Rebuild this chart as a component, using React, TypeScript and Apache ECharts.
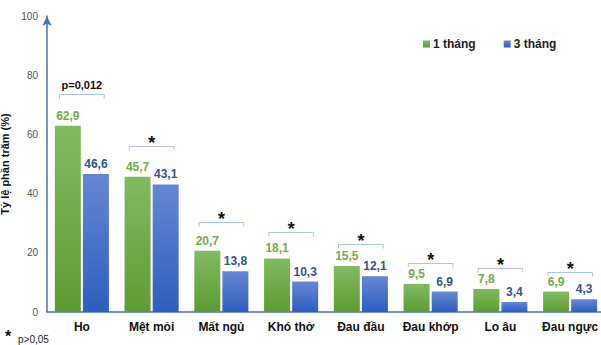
import React, { useEffect, useRef } from "react";
import * as echarts from "echarts";

const categories = ["Ho", "Mệt mỏi", "Mất ngủ", "Khó thở", "Đau đầu", "Đau khớp", "Lo âu", "Đau ngực"];
const oneMonth = [62.9, 45.7, 20.7, 18.1, 15.5, 9.5, 7.8, 6.9];
const threeMonths = [46.6, 43.1, 13.8, 10.3, 12.1, 6.9, 3.4, 4.3];
const bracketLevels = [73.5, 56, 30.5, 27, 23, 16.5, 15, 13.5];
const bracketTexts = ["p=0,012", "*", "*", "*", "*", "*", "*", "*"];
const yTicks = { min: 0, max: 100, interval: 20 };

const FONT = "'Liberation Sans', Arial, sans-serif";
const GREEN = "#70AD47";
const BLUE = "#4472C4";
const BLUE_DARK = "#2F5597";

const fmt = (v: number) => v.toFixed(1).replace(".", ",");

export default function App() {
  const ref = useRef<HTMLDivElement>(null);

  useEffect(() => {
    if (!ref.current) return;
    const chart = echarts.init(ref.current, null, { renderer: "svg" });

    const greenFill = new echarts.graphic.LinearGradient(0, 0, 0, 1, [
      { offset: 0, color: "#82BA62" },
      { offset: 1, color: "#5C9C2F" },
    ]);
    const blueFill = new echarts.graphic.LinearGradient(0, 0, 0, 1, [
      { offset: 0, color: "#6587D3" },
      { offset: 1, color: "#2E5EBE" },
    ]);

    chart.setOption({
      animation: false,
      textStyle: { fontFamily: FONT },
      grid: {
        left: 47,
        top: 16,
        width: 558,
        bottom: 33,
        containLabel: false,
        outerBoundsMode: "none",
      },
      legend: {
        left: 418,
        top: 33,
        icon: "rect",
        itemWidth: 7,
        itemHeight: 7,
        itemGap: 28,
        textStyle: { fontFamily: FONT, fontSize: 12, fontWeight: "bold", color: "#222", padding: [0, 0, 0, -2] },
        data: ["1 tháng", "3 tháng"],
      },
      xAxis: {
        type: "category",
        data: categories,
        axisLine: { lineStyle: { color: BLUE, width: 1.5 } },
        axisTick: { show: false },
        axisLabel: { interval: 0, fontFamily: FONT, fontSize: 12, fontWeight: "bold", color: "#111", margin: 9 },
      },
      yAxis: {
        type: "value",
        min: yTicks.min,
        max: yTicks.max,
        interval: yTicks.interval,
        name: "Tỷ lệ phần trăm (%)",
        nameLocation: "middle",
        nameGap: 34,
        nameTextStyle: { fontFamily: FONT, fontSize: 11, fontWeight: "bold", color: "#111" },
        axisLine: {
          show: true,
          symbol: ["none", "arrow"],
          symbolSize: [7, 10],
          lineStyle: { color: BLUE, width: 1.5 },
        },
        axisTick: { show: false },
        splitLine: { show: false },
        axisLabel: { fontFamily: FONT, fontSize: 10, color: "#555", margin: 9 },
      },
      series: [
        {
          name: "1 tháng",
          type: "bar",
          data: oneMonth,
          barWidth: 26,
          barGap: "8%",
          itemStyle: { color: greenFill },
          label: {
            show: true,
            position: "top",
            distance: 4,
            formatter: (p: any) => fmt(p.value),
            fontFamily: FONT,
            fontSize: 12,
            fontWeight: "bold",
            color: GREEN,
          },
        },
        {
          name: "3 tháng",
          type: "bar",
          data: threeMonths,
          barWidth: 26,
          itemStyle: { color: blueFill },
          label: {
            show: true,
            position: "top",
            distance: 4,
            formatter: (p: any) => fmt(p.value),
            fontFamily: FONT,
            fontSize: 12,
            fontWeight: "bold",
            color: BLUE_DARK,
          },
        },
        {
          name: "brackets",
          type: "custom",
          data: bracketLevels.map((lvl, i) => [i, lvl]),
          z: 5,
          renderItem: (params: any, api: any) => {
            const i = api.value(0);
            const pt = api.coord([i, api.value(1)]);
            const band = api.size([1, 0])[0];
            const hw = band * 0.32;
            const x = pt[0];
            const y = Math.round(pt[1]) + 0.5;
            const text = bracketTexts[i];
            const isStar = text === "*";
            return {
              type: "group",
              children: [
                {
                  type: "polyline",
                  shape: {
                    points: [
                      [x - hw, y + 4],
                      [x - hw, y],
                      [x + hw, y],
                      [x + hw, y + 4],
                    ],
                  },
                  style: { stroke: "#A5C6E8", lineWidth: 1, fill: "none" },
                },
                {
                  type: "text",
                  x,
                  y: isStar ? y - 4 : y - 10,
                  style: {
                    text,
                    fontFamily: FONT,
                    fontSize: isStar ? 18 : 11,
                    fontWeight: "bold",
                    fill: "#111",
                    align: "center",
                    verticalAlign: "middle",
                  },
                },
              ],
            };
          },
        },
      ],
      graphic: [
        {
          type: "text",
          left: 5,
          top: 328,
          style: { text: "*", fontFamily: FONT, fontSize: 16, fontWeight: "bold", fill: "#111" },
        },
        {
          type: "text",
          left: 18,
          top: 334,
          style: { text: "p>0,05", fontFamily: FONT, fontSize: 10, fill: "#222" },
        },
      ],
    });

    return () => chart.dispose();
  }, []);

  return (
    <div
      ref={ref}
      style={{ position: "fixed", left: 0, top: 0, width: 601, height: 345, background: "#fff" }}
    />
  );
}
